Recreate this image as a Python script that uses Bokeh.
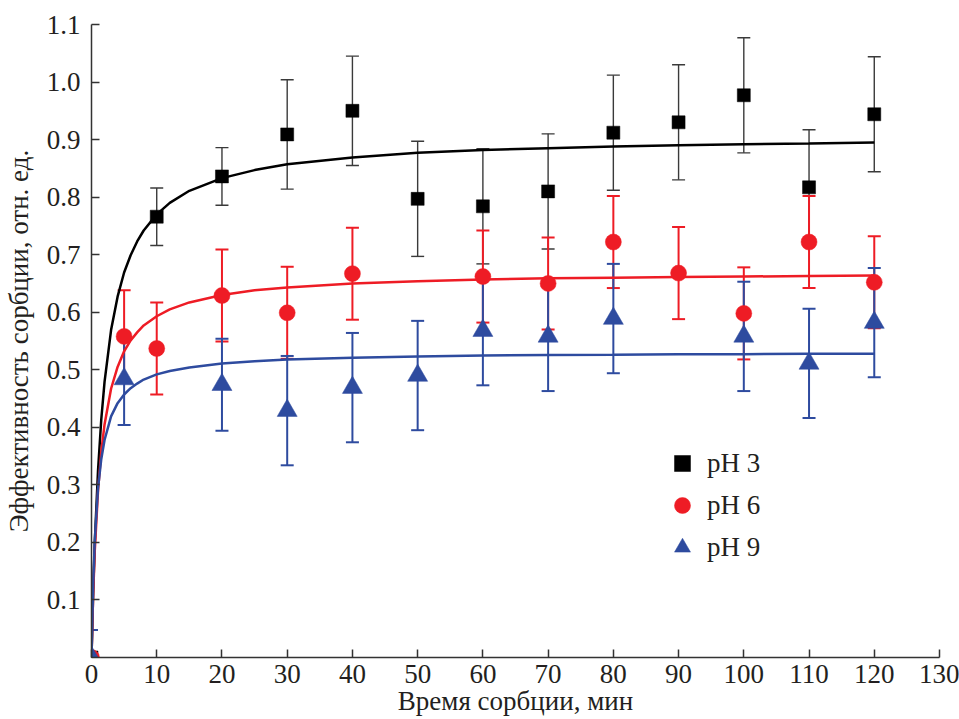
from bokeh.plotting import figure
from bokeh.models import (ColumnDataSource, Whisker, TeeHead, Range1d, FixedTicker,
                          NumeralTickFormatter, Legend, LegendItem)
from bokeh.embed import file_html
from bokeh.resources import INLINE

# ---- data ----
t_ph3 = [0, 10, 20, 30, 40, 50, 60, 70, 80, 90, 100, 110, 120]
y_ph3 = [0.0, 0.766, 0.836, 0.909, 0.950, 0.797, 0.784, 0.810, 0.912, 0.930, 0.977, 0.817, 0.944]
e_ph3 = [0.0, 0.050, 0.050, 0.095, 0.095, 0.100, 0.100, 0.100, 0.100, 0.100, 0.100, 0.100, 0.100]

t_ph6 = [0, 5, 10, 20, 30, 40, 60, 70, 80, 90, 100, 110, 120]
y_ph6 = [0.0, 0.558, 0.537, 0.629, 0.599, 0.667, 0.662, 0.650, 0.722, 0.668, 0.598, 0.722, 0.652]
e_ph6 = [0.0, 0.080, 0.080, 0.080, 0.080, 0.080, 0.080, 0.080, 0.080, 0.080, 0.080, 0.080, 0.080]

t_ph9 = [0, 5, 20, 30, 40, 50, 60, 70, 80, 100, 110, 120]
y_ph9 = [0.0, 0.484, 0.474, 0.429, 0.469, 0.490, 0.568, 0.558, 0.589, 0.558, 0.511, 0.582]
e_ph9 = [0.048, 0.080, 0.080, 0.095, 0.095, 0.095, 0.095, 0.095, 0.095, 0.095, 0.095, 0.095]

# fitted curves
t_fit = [0, 0.25, 0.5, 1, 1.5, 2, 3, 4, 5, 6, 7, 8, 10, 12, 15, 20, 25, 30, 40, 50, 60, 70,
         80, 90, 100, 110, 120]
fit_ph3 = [0.0, 0.111, 0.198, 0.325, 0.414, 0.479, 0.569, 0.627, 0.669, 0.699, 0.723, 0.742,
           0.770, 0.790, 0.811, 0.833, 0.847, 0.857, 0.869, 0.877, 0.882, 0.885, 0.888, 0.890,
           0.892, 0.893, 0.895]
fit_ph6 = [0.0, 0.108, 0.185, 0.290, 0.358, 0.405, 0.467, 0.505, 0.532, 0.551, 0.565, 0.577,
           0.593, 0.605, 0.617, 0.630, 0.638, 0.643, 0.650, 0.654, 0.657, 0.659, 0.660, 0.661,
           0.662, 0.663, 0.664]
fit_ph9 = [0.0, 0.125, 0.203, 0.294, 0.345, 0.378, 0.419, 0.442, 0.457, 0.468, 0.476, 0.483,
           0.492, 0.498, 0.504, 0.511, 0.515, 0.518, 0.521, 0.523, 0.525, 0.5255, 0.526, 0.527,
           0.527, 0.528, 0.528]

labels = ["pH 3", "pH 6", "pH 9"]
x_ticks = [0, 10, 20, 30, 40, 50, 60, 70, 80, 90, 100, 110, 120, 130]
y_ticks = [0.1, 0.2, 0.3, 0.4, 0.5, 0.6, 0.7, 0.8, 0.9, 1.0, 1.1]
x_title = "Время сорбции, мин"
y_title = "Эффективность сорбции, отн. ед."

BLACK = "#000000"
RED = "#EE1C25"
BLUE = "#2E4B9F"
TEXT = "#231F20"
FONT = "Liberation Serif"
FS = "27px"

p = figure(width=959, height=719, output_backend="svg", toolbar_location=None,
           x_range=Range1d(0, 130), y_range=Range1d(0, 1.1),
           min_border_left=89, min_border_right=20, min_border_top=24, min_border_bottom=62)
p.outline_line_color = None
p.xgrid.visible = False
p.ygrid.visible = False
p.background_fill_color = "white"
p.border_fill_color = "white"

for ax in (p.xaxis[0], p.yaxis[0]):
    ax.axis_line_color = "#333333"
    ax.axis_line_width = 1.5
    ax.major_tick_line_color = "#333333"
    ax.major_tick_line_width = 1.5
    ax.major_tick_in = 8
    ax.major_tick_out = 0
    ax.minor_tick_line_color = None
    ax.major_label_text_font = FONT
    ax.major_label_text_font_size = FS
    ax.major_label_text_color = TEXT
    ax.axis_label_text_font = FONT
    ax.axis_label_text_font_size = FS
    ax.axis_label_text_font_style = "normal"
    ax.axis_label_text_color = TEXT

p.xaxis[0].ticker = FixedTicker(ticks=x_ticks)
p.yaxis[0].ticker = FixedTicker(ticks=y_ticks)
p.yaxis[0].formatter = NumeralTickFormatter(format="0.0")
p.yaxis[0].axis_label = y_title
p.xaxis[0].axis_label = x_title
p.xaxis[0].major_label_standoff = 7
p.xaxis[0].axis_label_standoff = 0
p.yaxis[0].major_label_standoff = 11
p.yaxis[0].axis_label_standoff = 10

series = [
    (t_ph3, y_ph3, e_ph3, fit_ph3, BLACK, "#3a3a3a", 1.4, "square", 13),
    (t_ph6, y_ph6, e_ph6, fit_ph6, RED, RED, 2.0, "circle", 16),
    (t_ph9, y_ph9, e_ph9, fit_ph9, BLUE, BLUE, 2.0, "triangle", 20),
]

items = []
for (t, y, e, fit, col, ecol, ew, marker, size) in series:
    p.line(t_fit, fit, line_color=col, line_width=2.5)

for (t, y, e, fit, col, ecol, ew, marker, size), lab in zip(series, labels):
    src = ColumnDataSource(dict(t=t, y=y,
                                lo=[a - b for a, b in zip(y, e)],
                                hi=[a + b for a, b in zip(y, e)]))
    w = Whisker(source=src, base="t", lower="lo", upper="hi",
                line_color=ecol, line_width=ew,
                upper_head=TeeHead(size=13, line_color=ecol, line_width=ew),
                lower_head=TeeHead(size=13, line_color=ecol, line_width=ew))
    p.add_layout(w)
    r = p.scatter("t", "y", source=src, marker=marker, size=size,
                  fill_color=col, line_color=col, line_width=0.5)
    items.append(LegendItem(label=lab, renderers=[r]))

legend = Legend(items=items, location=(571, 90),
                glyph_width=40, glyph_height=40, spacing=2, label_standoff=5,
                padding=10, margin=0,
                label_text_font=FONT, label_text_font_size=FS, label_text_color=TEXT,
                border_line_color=None, background_fill_alpha=0)
p.add_layout(legend, "center")

open("out.html", "w").write(file_html(p, INLINE))
